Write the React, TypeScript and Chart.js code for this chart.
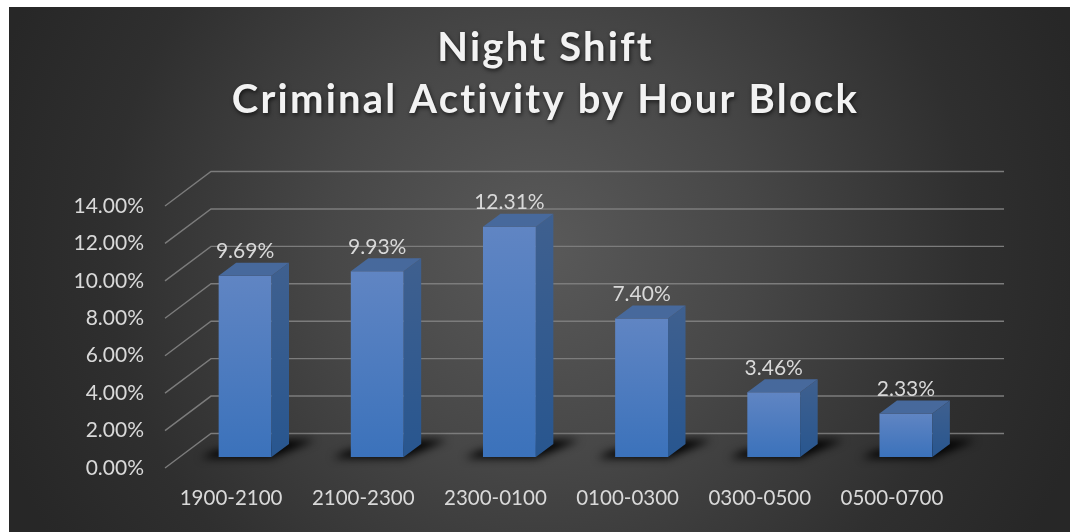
import React, { useEffect, useRef } from "react";
import { Chart, registerables } from "chart.js";

Chart.register(...registerables);

const categories = ["1900-2100", "2100-2300", "2300-0100", "0100-0300", "0300-0500", "0500-0700"];
const shares = [9.69, 9.93, 12.31, 7.4, 3.46, 2.33];
const titleLines = ["Night Shift", "Criminal Activity by Hour Block"];

const FONT = "Lato, Carlito, 'Open Sans', sans-serif";
const WIDTH = 1061;
const HEIGHT = 525;
const DEPTH_X = 46;
const DEPTH_Y = 34.5;
const BAR_OFF_X = 14;
const BAR_OFF_Y = 11;
const SIDE_X = 17.5;
const SIDE_Y = 13;

const pct = (v: number) => v.toFixed(2) + "%";

const scene = {
  id: "scene",
  beforeDraw(chart: any) {
    const { ctx } = chart;
    ctx.save();
    const g = ctx.createRadialGradient(531, 240, 20, 531, 240, 570);
    g.addColorStop(0, "#585858");
    g.addColorStop(0.35, "#474747");
    g.addColorStop(0.75, "#2f2f2f");
    g.addColorStop(1, "#272727");
    ctx.fillStyle = g;
    ctx.fillRect(0, 0, WIDTH, HEIGHT);
    ctx.restore();

    const block = chart.titleBlock;
    if (block && !block.__wrapped) {
      const draw = block.draw;
      block.draw = function () {
        ctx.save();
        ctx.letterSpacing = "2.2px";
        ctx.shadowColor = "rgba(0,0,0,0.65)";
        ctx.shadowBlur = 4;
        ctx.shadowOffsetX = 1;
        ctx.shadowOffsetY = 2;
        ctx.translate(62, 0);
        draw.call(this);
        ctx.restore();
      };
      block.__wrapped = true;
    }
  },
  beforeDatasetsDraw(chart: any) {
    const { ctx, chartArea } = chart;
    const y = chart.scales.y;
    ctx.save();
    ctx.strokeStyle = "#7c7c7c";
    ctx.lineWidth = 1.4;
    y.ticks.forEach((t: any) => {
      const py = y.getPixelForValue(t.value);
      ctx.beginPath();
      ctx.moveTo(chartArea.left, py);
      ctx.lineTo(chartArea.left + DEPTH_X, py - DEPTH_Y);
      ctx.lineTo(chartArea.right + DEPTH_X, py - DEPTH_Y);
      ctx.stroke();
    });
    ctx.restore();

    ctx.save();
    ctx.filter = "blur(4px)";
    ctx.fillStyle = "#000";
    chart.getDatasetMeta(0).data.forEach((el: any) => {
      const { x, base, width } = el.getProps(["x", "base", "width"], true);
      const l = x - width / 2 + BAR_OFF_X;
      const r = x + width / 2 + BAR_OFF_X;
      const b = base - BAR_OFF_Y;
      ctx.beginPath();
      ctx.moveTo(l - 18, b + 1);
      ctx.lineTo(r, b + 1);
      ctx.lineTo(r + SIDE_X + 26, b - SIDE_Y - 4);
      ctx.lineTo(r + SIDE_X, b - SIDE_Y - 4);
      ctx.lineTo(l - 4, b - 6);
      ctx.closePath();
      ctx.fill();
    });
    ctx.restore();
  },
  beforeDatasetDraw(chart: any) {
    chart.ctx.save();
    chart.ctx.translate(BAR_OFF_X, -BAR_OFF_Y);
  },
  afterDatasetDraw(chart: any) {
    const { ctx } = chart;
    ctx.restore();
    chart.getDatasetMeta(0).data.forEach((el: any) => {
      const { x, y, base, width } = el.getProps(["x", "y", "base", "width"], true);
      const l = x - width / 2 + BAR_OFF_X;
      const r = x + width / 2 + BAR_OFF_X;
      const t = y - BAR_OFF_Y;
      const b = base - BAR_OFF_Y;
      const side = ctx.createLinearGradient(0, t - SIDE_Y, 0, b);
      side.addColorStop(0, "#3f608f");
      side.addColorStop(1, "#28568f");
      ctx.fillStyle = side;
      ctx.beginPath();
      ctx.moveTo(r, t);
      ctx.lineTo(r + SIDE_X, t - SIDE_Y);
      ctx.lineTo(r + SIDE_X, b - SIDE_Y);
      ctx.lineTo(r, b);
      ctx.closePath();
      ctx.fill();
      ctx.fillStyle = "#47699c";
      ctx.beginPath();
      ctx.moveTo(l, t);
      ctx.lineTo(l + SIDE_X, t - SIDE_Y);
      ctx.lineTo(r + SIDE_X, t - SIDE_Y);
      ctx.lineTo(r, t);
      ctx.closePath();
      ctx.fill();
    });
    ctx.save();
    ctx.font = `21px ${FONT}`;
    ctx.fillStyle = "#d9d9d9";
    ctx.textAlign = "center";
    ctx.textBaseline = "middle";
    chart.getDatasetMeta(0).data.forEach((el: any, i: number) => {
      const { x, y } = el.getProps(["x", "y"], true);
      ctx.fillText(pct(shares[i]), x + BAR_OFF_X, y - BAR_OFF_Y - 24);
    });
    ctx.restore();
  },
};

export default function App() {
  const ref = useRef<HTMLCanvasElement>(null);
  useEffect(() => {
    document.body.style.overflow = "hidden";
    const chart = new Chart(ref.current as HTMLCanvasElement, {
      type: "bar",
      data: {
        labels: categories,
        datasets: [
          {
            data: shares,
            categoryPercentage: 1,
            barPercentage: 0.4,
            backgroundColor: (c: any) => {
              if (c.type !== "data" || !c.chart.scales.y) return "#4a7bc0";
              const s = c.chart.scales.y;
              const top = s.getPixelForValue(c.raw);
              const bottom = s.getPixelForValue(0);
              if (!isFinite(top) || !isFinite(bottom)) return "#4a7bc0";
              const g = c.chart.ctx.createLinearGradient(0, top, 0, bottom);
              g.addColorStop(0, "#6085c3");
              g.addColorStop(1, "#3b72bb");
              return g;
            },
          },
        ],
      },
      options: {
        responsive: false,
        animation: false,
        layout: { padding: { left: 0, right: 112, top: 0, bottom: 0 } },
        plugins: {
          legend: { display: false },
          tooltip: { enabled: false },
          title: {
            display: true,
            text: titleLines,
            color: "#f2f2f2",
            font: { family: FONT, size: 40, weight: "bold", lineHeight: 1.3 },
            padding: { top: 15, bottom: 80 },
          },
        },
        scales: {
          x: {
            grid: { display: false },
            border: { display: false },
            ticks: {
              color: "#d9d9d9",
              font: { family: FONT, size: 20.5 },
              padding: 10,
              maxRotation: 0,
              autoSkip: false,
            },
            afterFit: (s: any) => {
              s.height = 64;
            },
          },
          y: {
            min: 0,
            max: 14,
            grid: { display: false },
            border: { display: false },
            ticks: {
              stepSize: 2,
              color: "#d9d9d9",
              font: { family: FONT, size: 21 },
              padding: 13,
              callback: (v: any) => pct(Number(v)),
            },
            afterFit: (s: any) => {
              s.width = 156;
            },
          },
        },
      },
      plugins: [scene],
    } as any);
    return () => chart.destroy();
  }, []);
  return (
    <div style={{ position: "fixed", left: 9, top: 7, width: WIDTH, height: HEIGHT }}>
      <canvas ref={ref} width={WIDTH} height={HEIGHT} style={{ display: "block" }} />
    </div>
  );
}
